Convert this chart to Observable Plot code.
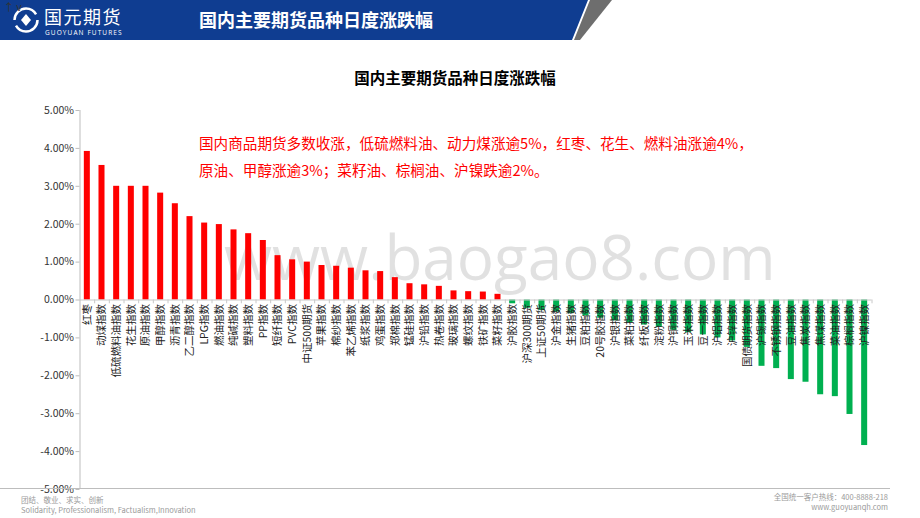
<!DOCTYPE html>
<html><head><meta charset="utf-8">
<script src="https://cdn.jsdelivr.net/npm/d3@7"></script>
<script src="https://cdn.jsdelivr.net/npm/@observablehq/plot@0.6"></script>
<style>
body{margin:0;background:#fff;font-family:"Noto Sans CJK SC","Noto Sans",sans-serif;}
#page{position:relative;width:920px;height:518px;overflow:hidden;background:#fff;}
#hdr{position:absolute;left:0;top:0;width:588px;height:40px;background:#0f3d91;clip-path:polygon(0 0,588px 0,572px 40px,0 40px);}
#hdr2{position:absolute;left:572px;top:0;width:40px;height:40px;background:#6e6e6e;clip-path:polygon(18px 0,40px 0,40px 0,8px 40px,2px 40px);}
#logo{position:absolute;left:12px;top:5px;width:140px;height:32px;color:#fff;}
#logo svg{position:absolute;left:0;top:1px;}
#logo .cn{position:absolute;left:32px;top:1px;font-size:18px;line-height:20px;letter-spacing:1.5px;white-space:nowrap;}
#logo .en{position:absolute;left:33px;top:24px;font-size:6.5px;line-height:7px;letter-spacing:1.1px;white-space:nowrap;font-family:"Open Sans",sans-serif;}
#htitle{position:absolute;left:199px;top:6px;color:#fff;font-size:18px;font-weight:bold;white-space:nowrap;}
#ctitle{position:absolute;left:0;width:910px;top:66px;text-align:center;font-size:15.5px;font-weight:bold;color:#000;}
#note{position:absolute;left:199px;top:129px;color:#ff0000;font-size:14.6px;line-height:27px;white-space:nowrap;}
#wm{position:absolute;left:224px;top:214px;color:rgba(170,170,170,0.35);font-size:62px;font-family:"Open Sans",sans-serif;white-space:nowrap;}
#chart{position:absolute;left:0;top:0;}
#footline{position:absolute;left:0;top:488px;width:890px;height:1px;background:#bdbdbd;}
.fl{position:absolute;color:#9a9a9a;font-size:7.5px;line-height:10px;white-space:nowrap;}
</style></head>
<body><div id="page">
<div id="hdr"></div><div id="hdr2"></div>
<div id="logo">
<svg width="28" height="28" viewBox="0 0 28 28"><circle cx="14" cy="14" r="11.5" fill="none" stroke="#fff" stroke-width="2.5" stroke-dasharray="30 6"/><path d="M14 8 L19 14 L14 20 L9 14 Z" fill="#fff"/></svg>
<div class="cn">国元期货</div><div class="en">GUOYUAN FUTURES</div>
</div>
<div id="htitle">国内主要期货品种日度涨跌幅</div>
<div id="ctitle">国内主要期货品种日度涨跌幅</div>
<div id="wm">www.baogao8.com</div>
<div id="chart"></div>
<div id="note">国内商品期货多数收涨，低硫燃料油、动力煤涨逾5%，红枣、花生、燃料油涨逾4%，<br>原油、甲醇涨逾3%；菜籽油、棕榈油、沪镍跌逾2%。</div>
<div id="footline"></div>
<div class="fl" style="left:21px;top:495px;">团结、敬业、求实、创新<br>Solidarity, Professionalism, Factualism,Innovation</div>
<div class="fl" style="right:32px;top:492px;text-align:right;">全国统一客户热线：400-8888-218<br>www.guoyuanqh.com</div>
</div>
<script>
const categories = ["红枣","动煤指数","低硫燃料油指数","花生指数","原油指数","甲醇指数","沥青指数","乙二醇指数","LPG指数","燃油指数","纯碱指数","塑料指数","PP指数","短纤指数","PVC指数","中证500期货","苹果指数","棉纱指数","苯乙烯指数","纸浆指数","鸡蛋指数","郑棉指数","锰硅指数","沪铅指数","热卷指数","玻璃指数","螺纹指数","铁矿指数","菜籽指数","沪胶指数","沪深300期货","上证50期货","沪金指数","生猪指数","豆粕指数","20号胶指数","沪银指数","菜粕指数","纤板指数","淀粉指数","沪铜指数","玉米指数","豆一指数","沪铝指数","沪锌指数","国债期货指数","沪锡指数","不锈钢指数","豆油指数","焦炭指数","焦煤指数","菜油指数","棕榈指数","沪镍指数"];
const values = [3.92,3.55,3.00,3.00,3.00,2.82,2.54,2.20,2.03,1.99,1.85,1.75,1.57,1.17,1.06,1.00,0.91,0.89,0.84,0.77,0.75,0.59,0.43,0.40,0.36,0.24,0.22,0.21,0.15,-0.10,-0.22,-0.28,-0.32,-0.36,-0.42,-0.48,-0.55,-0.60,-0.66,-0.72,-0.80,-0.86,-0.92,-1.00,-1.08,-1.25,-1.75,-1.81,-2.10,-2.17,-2.50,-2.55,-3.02,-3.84];
const yTicks = [-5,-4,-3,-2,-1,0,1,2,3,4,5];

const data = categories.map((c,i)=>({name:c, v:values[i]}));
const font = '"Noto Sans CJK SC","Noto Sans",sans-serif';
const step = (871.5-79.5)/categories.length;

const chart = Plot.plot({
  width: 920, height: 518,
  marginTop: 110, marginBottom: 29, marginLeft: 79.5, marginRight: 48.5,
  style: {fontFamily: font, fontSize: "10.5px", color: "#333", background: "transparent"},
  x: {domain: categories, paddingInner: 0.59, paddingOuter: 0.295, axis: null},
  y: {domain: [-5,5], axis: null},
  marks: [
    Plot.barY(data, {x:"name", y:"v", fill: d => d.v >= 0 ? "#ff0000" : "#00b050"}),
    Plot.ruleY([0], {stroke:"#c8c8c8", strokeWidth:1}),
    Plot.ruleX(categories, {x: d=>d, y1: 0, y2: -0.1, dx: step/2, stroke:"#c8c8c8"}),
    Plot.ruleX([categories[0]], {x: d=>d, y1: -5, y2: 5, dx: -step/2, stroke:"#bdbdbd"}),
    Plot.axisY({ticks: yTicks, tickFormat: d => d.toFixed(2)+"%", tickSize: 4, tickPadding: 2, stroke:"#bdbdbd", fontSize: 10.5, color:"#333"}),
    Plot.text(data, {x:"name", y:0, text:"name", rotate:-90, textAnchor:"end", dy: 4, fontSize: 10.5, fill:"#222"})
  ]
});
document.getElementById("chart").appendChild(chart);
</script>
</body></html>
